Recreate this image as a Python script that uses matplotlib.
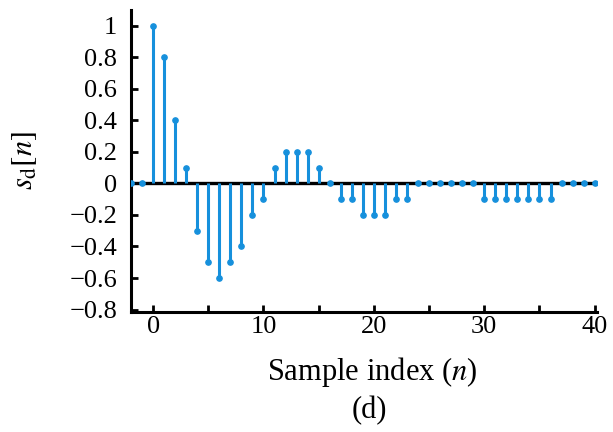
import numpy as np
import matplotlib
matplotlib.use('Agg')
import matplotlib.pyplot as plt
from matplotlib.ticker import MultipleLocator

plt.rcParams['font.family'] = ['Liberation Serif', 'DejaVu Serif']
plt.rcParams['mathtext.fontset'] = 'stix'

# Sample indices and values of s_d[n]
n = list(range(-2, 41))
s_d = [0, 0,
       1.0, 0.8, 0.4, 0.1, -0.3, -0.5, -0.6, -0.5, -0.4, -0.2,
       -0.1, 0.1, 0.2, 0.2, 0.2, 0.1, 0, -0.1, -0.1, -0.2,
       -0.2, -0.2, -0.1, -0.1, 0, 0, 0, 0, 0, 0,
       -0.1, -0.1, -0.1, -0.1, -0.1, -0.1, -0.1, 0, 0, 0, 0]

x_ticks = [0, 10, 20, 30, 40]
y_ticks = [-0.8, -0.6, -0.4, -0.2, 0, 0.2, 0.4, 0.6, 0.8, 1]
y_ticklabels = ['\u22120.8', '\u22120.6', '\u22120.4', '\u22120.2', '0',
                '0.2', '0.4', '0.6', '0.8', '1']

blue = '#1690dc'

fig = plt.figure(figsize=(6.13, 4.32), dpi=100)
ax = fig.add_axes([0.2137, 0.278, 0.760, 0.699])

ax.axhline(0, color='black', lw=2.4, zorder=1)
markerline, stemlines, baseline = ax.stem(n, s_d, basefmt=' ')
plt.setp(stemlines, color=blue, lw=2.2, zorder=2)
plt.setp(markerline, color=blue, marker='o', markersize=3.8, zorder=3)

ax.set_xlim(-2.0, 40.2)
ax.set_ylim(-0.815, 1.1)

ax.set_xticks(x_ticks)
ax.xaxis.set_minor_locator(MultipleLocator(5))
ax.set_yticks(y_ticks)
ax.set_yticklabels(y_ticklabels)

for side in ['top', 'right']:
    ax.spines[side].set_visible(False)
for side in ['left', 'bottom']:
    ax.spines[side].set_linewidth(2.2)

ax.tick_params(axis='both', which='both', direction='in', width=2.0,
               labelsize=19)
ax.tick_params(axis='y', pad=10)
ax.tick_params(axis='x', pad=3)
ax.tick_params(axis='both', which='major', length=5)
ax.tick_params(axis='x', which='minor', length=5)

ax.set_xlabel('Sample index ($n$)', fontsize=22)
ax.xaxis.set_label_coords(0.517, -0.143)
ax.set_ylabel(r'$s_{\mathrm{d}}[n]$', fontsize=22, labelpad=22)

fig.text(0.603, 0.05, '(d)', ha='center', va='center', fontsize=22)

fig.savefig('out.png', dpi=100)
